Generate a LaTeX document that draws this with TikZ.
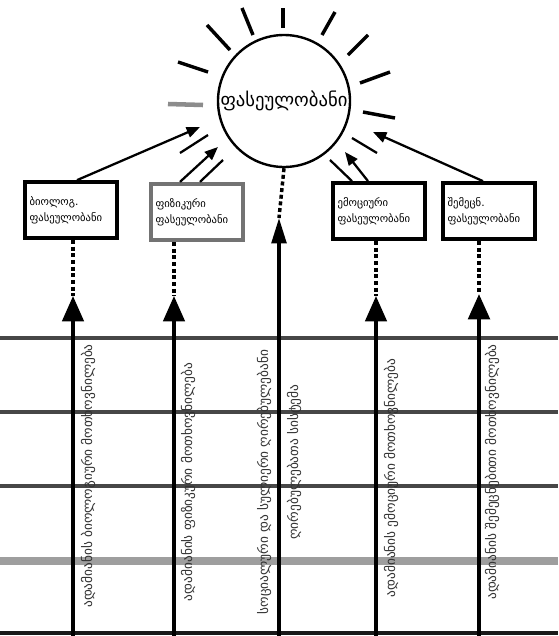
\documentclass[tikz,border=0pt]{standalone}
\usepackage{fontspec}
\setmainfont{DejaVu Sans}
\usetikzlibrary{arrows.meta,calc}
\begin{document}
\begin{tikzpicture}[x=0.75pt,y=-0.75pt,
  ray/.style={line width=2.6pt,black},
  grayray/.style={line width=3.4pt,black!45},
  hline/.style={line width=2.8pt,black!72},
  grayline/.style={line width=5.5pt,black!38},
  box/.style={draw=black,line width=2.8pt,fill=white,minimum width=69pt,minimum height=42pt,inner sep=2pt,align=left,font=\fontsize{8}{12}\selectfont,text width=62pt},
  vtext/.style={rotate=90,font=\fontsize{10}{11}\selectfont,text=black!80,inner sep=0pt},
  col/.style={line width=2.6pt,-{Triangle[width=16pt,length=19pt]}},
  colc/.style={line width=2.6pt,-{Triangle[width=11pt,length=19pt]}},
  dashv/.style={line width=2.6pt,dash pattern=on 3pt off 2pt},
  barr/.style={line width=1.7pt,-{Triangle[width=8pt,length=10pt]}},
  thinray/.style={line width=1.7pt}]
\useasboundingbox[fill=white] (0,0) rectangle (558,636);

% horizontal lines
\draw[hline] (0,338) -- (558,338);
\draw[hline] (0,412) -- (558,412);
\draw[hline] (0,486) -- (558,486);
\draw[grayline] (0,561) -- (558,561);
\draw[hline,black!90] (0,633) -- (558,633);

% sun
\node[circle,draw,line width=1.8pt,minimum size=99pt,inner sep=0pt,font=\fontsize{14}{16}\selectfont] (sun) at (284,101) {ფასეულობანი};

% rays
\draw[ray] (283,8) -- (283,28);
\draw[ray] (242,8) -- (253,35);
\draw[ray] (335,12) -- (322,35);
\draw[ray] (207,25) -- (230,50);
\draw[ray] (368,35) -- (348,55);
\draw[ray] (178,62) -- (208,72);
\draw[ray] (390,72) -- (360,83);
\draw[grayray] (168,104) -- (203,105);
\draw[ray] (363,112) -- (395,118);
\draw[thinray] (352,138) -- (377,153);
\draw[thinray] (180,153) -- (208,135);

% boxes
\node[box] (b1) at (71,210) {ბიოლოგ.\\ფასეულობანი};
\node[box,draw=black!55,line width=3.2pt] (b2) at (197,212) {ფიზიკური\\ფასეულობანი};
\node[box] (b3) at (379,211) {ემოციური\\ფასეულობანი};
\node[box] (b4) at (489,211) {შემეცნ.\\ფასეულობანი};

% arrows from boxes to the sun
\coordinate (s1) at (200,127);
\coordinate (s2) at (218,147);
\coordinate (s2r) at (223,160);
\coordinate (s3) at (345,152);
\coordinate (s3r) at (330,160);
\coordinate (s4) at (373,132);
\draw[barr] ($(b1.north)+(6,0)$) -- (s1);
\draw[barr] ($(b2.north)+(-17,0)$) -- (s2);
\draw[thinray] ($(b2.north)+(3,0)$) -- (s2r);
\draw[barr] ($(b3.north)+(-11,0)$) -- (s3);
\draw[thinray] ($(b3.north)+(-27,0)$) -- (s3r);
\draw[barr] ($(b4.north)+(-6,0)$) -- (s4);

% columns
\coordinate (t1) at (73,296);  \coordinate (d1) at (73,636);
\coordinate (t2) at (174,296); \coordinate (d2) at (174,636);
\coordinate (t3) at (279,218); \coordinate (d3) at (279,636);
\coordinate (t4) at (376,296); \coordinate (d4) at (376,636);
\coordinate (t5) at (479,294); \coordinate (d5) at (479,636);

\draw[dashv] (b1.south -| t1) -- (t1);
\draw[dashv] (b2.south -| t2) -- (t2);
\draw[dashv] (sun.south) -- (t3);
\draw[dashv] (b3.south -| t4) -- (t4);
\draw[dashv] (b4.south -| t5) -- (t5);

\draw[col] (d1) -- (t1);
\draw[col] (d2) -- (t2);
\draw[colc] (d3) -- (t3);
\draw[col] (d4) -- (t4);
\draw[col,line width=3.2pt] (d5) -- (t5);

% vertical texts
\node[vtext] (v1) at (88,476) {ადამიანის ბიოლოგიური მოთხოვნილება};
\node[vtext] (v2) at (188,482) {ადამიანის ფიზიკური მოთხოვნილება};
\node[vtext] (v3a) at (264,482) {სოციალური და სულიერი ღირებულებანი};
\node[vtext] (v3b) at (294,462) {ღირებულებათა სისტემა};
\node[vtext] (v4) at (391,478) {ადამიანის ემოციური მოთხოვნილება};
\node[vtext] (v5) at (492,472) {ადამიანის შემეცნებითი მოთხოვნილება};
\end{tikzpicture}
\end{document}
